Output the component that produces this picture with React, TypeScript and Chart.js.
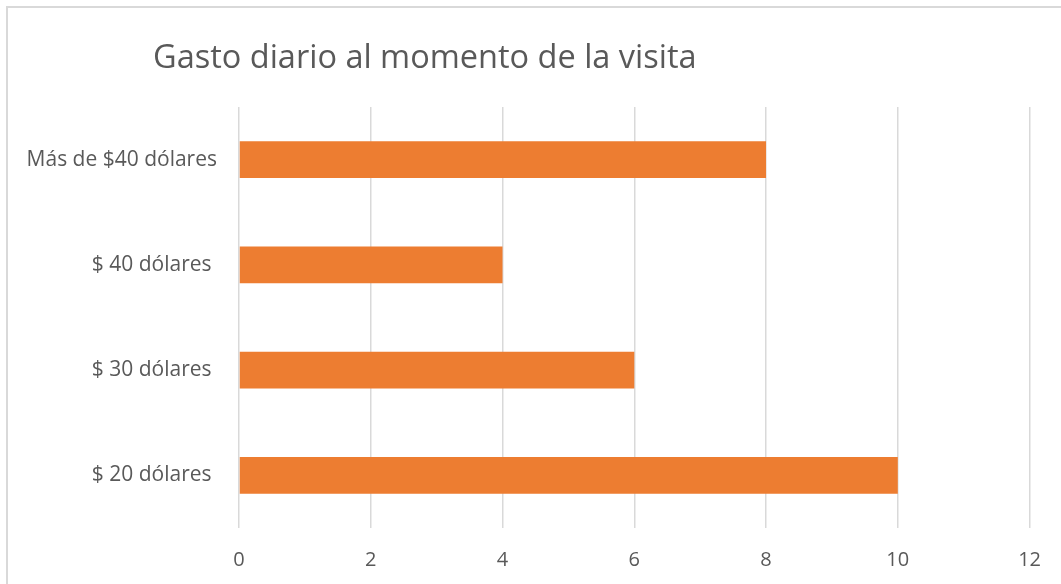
import React, { useEffect, useRef } from "react";
import { Chart, registerables } from "chart.js";

Chart.register(...registerables);

const TITLE = "Gasto diario al momento de la visita";
const categories = ["Más de $40 dólares", "$ 40 dólares ", "$ 30 dólares ", "$ 20 dólares "];
const values = [8, 4, 6, 10];
const xTicks = [0, 2, 4, 6, 8, 10, 12];

const FONT = "'Open Sans', 'Noto Sans', sans-serif";
const TEXT = "#595959";

const titlePlugin = {
  id: "leftTitle",
  afterDraw(chart: any) {
    const ctx = chart.ctx;
    ctx.save();
    ctx.font = `32.5px ${FONT}`;
    ctx.fillStyle = TEXT;
    ctx.textBaseline = "alphabetic";
    ctx.textAlign = "left";
    ctx.fillText(TITLE, 153, 68);
    ctx.restore();
  },
};

export default function App() {
  const ref = useRef<HTMLCanvasElement | null>(null);
  useEffect(() => {
    document.documentElement.style.overflow = "hidden";
    if (!ref.current) return;
    const chart = new Chart(ref.current, {
      type: "bar",
      data: {
        labels: categories,
        datasets: [
          {
            data: values,
            backgroundColor: "#ED7D31",
            borderWidth: 0,
            barPercentage: 0.7,
            categoryPercentage: 0.5,
          },
        ],
      },
      options: {
        indexAxis: "y",
        animation: false,
        responsive: false,
        maintainAspectRatio: false,
        layout: { padding: { left: 0, right: 28, top: 107, bottom: 0 } },
        plugins: { legend: { display: false }, title: { display: false }, tooltip: { enabled: false } },
        scales: {
          x: {
            min: 0,
            max: 12,
            afterBuildTicks: (axis: any) => {
              axis.ticks = xTicks.map((v) => ({ value: v }));
            },
            afterFit: (axis: any) => {
              axis.height = 56;
            },
            grid: { color: "#d9d9d9", lineWidth: 1.5, drawTicks: false },
            border: { display: false },
            ticks: { color: TEXT, font: { family: FONT, size: 20 }, padding: 20 },
          },
          y: {
            afterFit: (axis: any) => {
              axis.width = 239;
            },
            grid: { display: false, drawTicks: false },
            border: { display: false },
            ticks: { color: TEXT, font: { family: FONT, size: 21 }, padding: 22 },
          },
        },
      },
      plugins: [titlePlugin],
    });
    return () => chart.destroy();
  }, []);
  return (
    <div style={{ position: "fixed", left: 0, top: 0, width: 1061, height: 584, background: "#fff", overflow: "hidden" }}>
      <div
        style={{
          position: "absolute",
          left: 6,
          top: 6,
          width: 1100,
          height: 650,
          border: "2px solid #d9d9d9",
        }}
      />
      <canvas ref={ref} width={1061} height={584} style={{ position: "absolute", left: 0, top: 0, width: 1061, height: 584 }} />
    </div>
  );
}
